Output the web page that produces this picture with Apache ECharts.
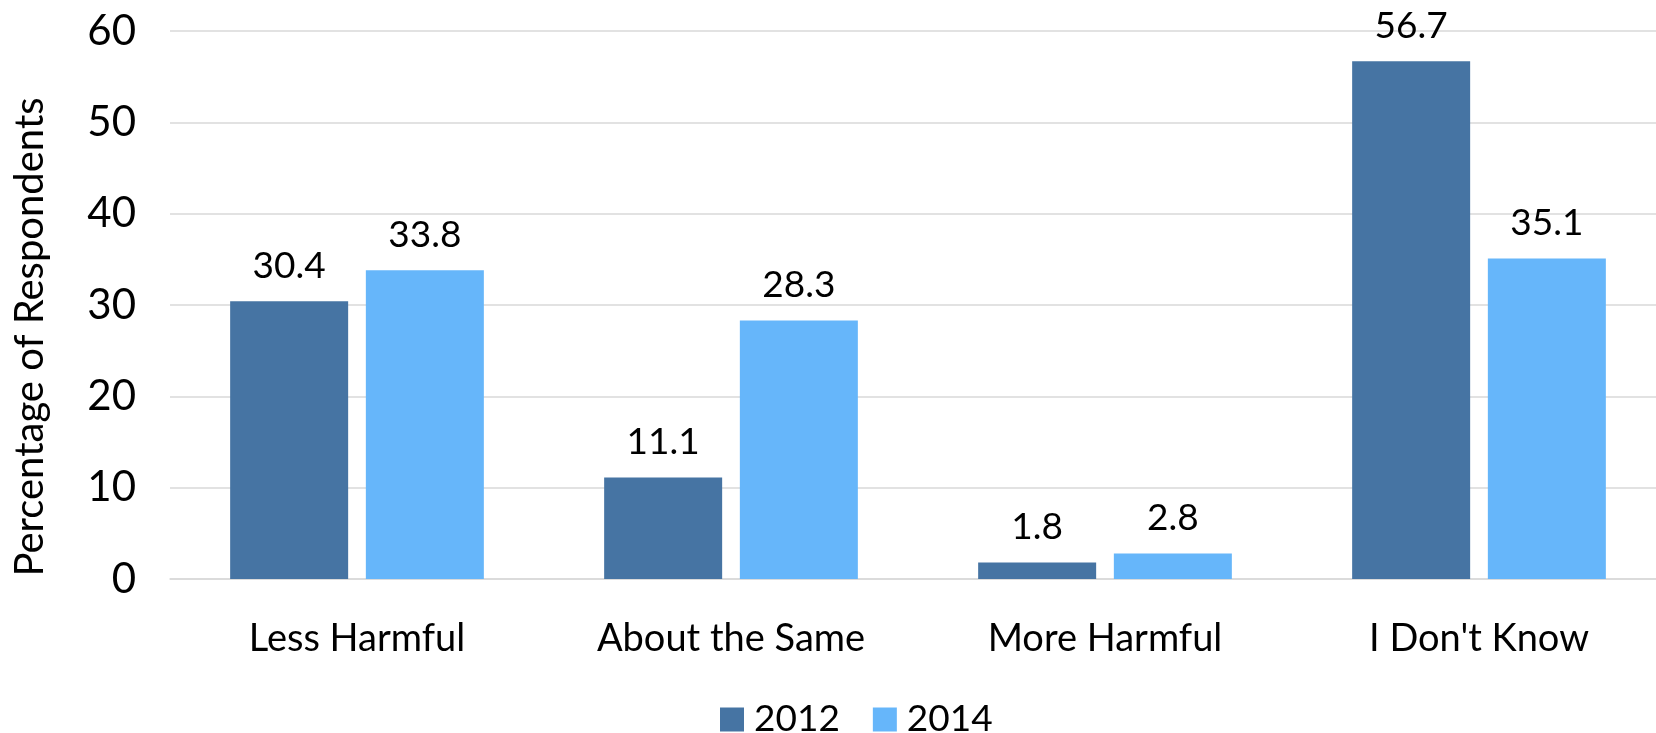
<!DOCTYPE html>
<html>
<head>
<meta charset="utf-8">
<title>Perceived harm by response category, 2012 vs 2014</title>
<script src="https://cdn.jsdelivr.net/npm/echarts@6/dist/echarts.min.js"></script>
<style>
  html, body { margin: 0; padding: 0; background: #ffffff; }
  #chart { width: 1656px; height: 733px; }
</style>
</head>
<body>
<div id="chart"></div>
<script>
// Response categories and the share of respondents (%) for each survey year
const categories = ['Less Harmful', 'About the Same', 'More Harmful', "I Don't Know"];
const values2012 = [30.4, 11.1, 1.8, 56.7];
const values2014 = [33.8, 28.3, 2.8, 35.1];
const yTicks = { min: 0, max: 60, interval: 10 };

const FONT = 'Lato, "Open Sans", sans-serif';
const FONT_SIZE = 38;

const chart = echarts.init(document.getElementById('chart'), null, { renderer: 'canvas' });

function barSeries(name, data, color) {
  return {
    name: name,
    type: 'bar',
    data: data,
    barWidth: 118,
    barGap: '15%',
    itemStyle: { color: color },
    label: {
      show: true,
      position: 'top',
      distance: 17,
      color: '#000000',
      fontFamily: FONT,
      fontSize: 37,
      formatter: p => p.value.toFixed(1)
    },
    emphasis: { disabled: true }
  };
}

chart.setOption({
  animation: false,
  backgroundColor: '#ffffff',
  // the plot area runs a little past the right edge of the canvas
  grid: { left: 170, top: 31, width: 1496, height: 548, containLabel: false, outerBoundsMode: 'none' },
  legend: {
    data: ['2012', '2014'],
    left: 715,
    top: 696,
    itemWidth: 24,
    itemHeight: 24,
    itemGap: 33,
    icon: 'rect',
    textStyle: { fontFamily: FONT, fontSize: 37, color: '#000000', padding: [0, 0, 0, 5] }
  },
  xAxis: {
    type: 'category',
    data: categories,
    axisLine: { show: true, lineStyle: { color: '#d9d9d9', width: 1.5 } },
    axisTick: { show: false },
    axisLabel: { fontFamily: FONT, fontSize: FONT_SIZE, color: '#000000', margin: 41, interval: 0 }
  },
  yAxis: {
    type: 'value',
    min: yTicks.min,
    max: yTicks.max,
    interval: yTicks.interval,
    name: 'Percentage of Respondents',
    nameLocation: 'middle',
    nameGap: 120,
    nameTextStyle: { fontFamily: FONT, fontSize: 40, color: '#000000', padding: [0, 64, 0, 0] },
    axisLine: { show: false },
    axisTick: { show: false },
    axisLabel: { fontFamily: FONT, fontSize: 42, color: '#000000', margin: 34 },
    splitLine: { lineStyle: { color: '#d9d9d9', width: 1.5 } }
  },
  series: [
    barSeries('2012', values2012, '#4674a3'),
    barSeries('2014', values2014, '#66b6fa')
  ]
});
</script>
</body>
</html>
